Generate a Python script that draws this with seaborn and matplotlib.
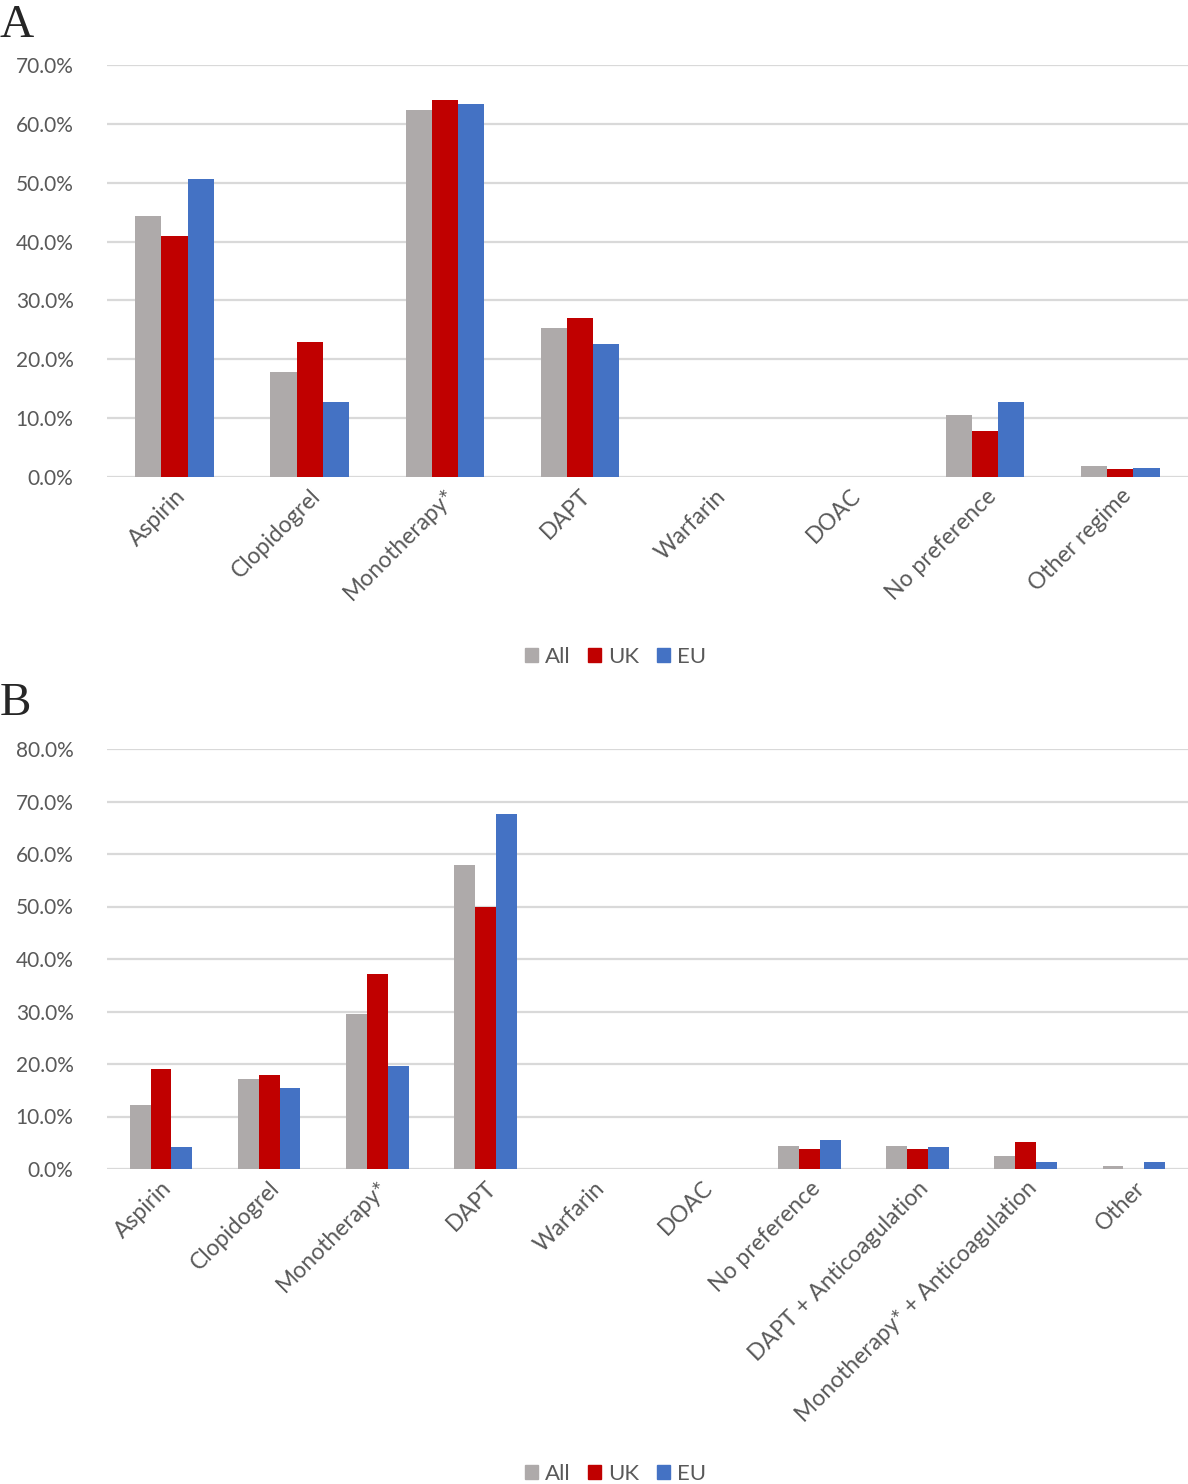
import matplotlib
matplotlib.use("Agg")
import matplotlib.pyplot as plt
import matplotlib.ticker as mtick
import pandas as pd
import seaborn as sns

# data (fractions)
series = ["All", "UK", "EU"]
colors = ["#AEAAAA", "#C00000", "#4472C4"]

cats_a = ["Aspirin", "Clopidogrel", "Monotherapy*", "DAPT", "Warfarin", "DOAC",
          "No preference", "Other regime"]
all_a = [0.443, 0.178, 0.623, 0.253, 0.0, 0.0, 0.105, 0.019]
uk_a = [0.409, 0.230, 0.640, 0.270, 0.0, 0.0, 0.078, 0.013]
eu_a = [0.506, 0.127, 0.633, 0.226, 0.0, 0.0, 0.127, 0.015]

cats_b = ["Aspirin", "Clopidogrel", "Monotherapy*", "DAPT", "Warfarin", "DOAC",
          "No preference", "DAPT + Anticoagulation",
          "Monotherapy* + Anticoagulation", "Other"]
all_b = [0.122, 0.172, 0.296, 0.580, 0.0, 0.0, 0.043, 0.043, 0.025, 0.005]
uk_b = [0.191, 0.179, 0.371, 0.500, 0.0, 0.0, 0.039, 0.039, 0.051, 0.0]
eu_b = [0.041, 0.154, 0.197, 0.676, 0.0, 0.0, 0.056, 0.041, 0.014, 0.014]


def long_df(cats, vals):
    rows = []
    for s, v in zip(series, vals):
        for c, x in zip(cats, v):
            rows.append({"cat": c, "series": s, "value": x})
    return pd.DataFrame(rows)


sns.set_style("white")
plt.rcParams["font.family"] = ["Lato", "DejaVu Sans"]
text_col = "#595959"

fig = plt.figure(figsize=(11.88, 14.84), dpi=100)


def draw_panel(rect, cats, vals, ymax, letter, letter_y, legend_y):
    ax = fig.add_axes(rect)
    df = long_df(cats, vals)
    sns.barplot(data=df, x="cat", y="value", hue="series", palette=colors,
                width=0.58, gap=0, ax=ax, legend=False, saturation=1,
                linewidth=0)
    ax.set_ylim(0, ymax)
    ax.set_yticks([i / 10 for i in range(int(round(ymax * 10)) + 1)])
    ax.yaxis.set_major_formatter(mtick.PercentFormatter(1.0, decimals=1))
    ax.grid(axis="y", color="#d9d9d9", lw=1.6)
    ax.set_axisbelow(True)
    for sp in ax.spines.values():
        sp.set_visible(False)
    ax.tick_params(axis="y", length=0, labelsize=15, colors=text_col, pad=24)
    ax.tick_params(axis="x", length=0, labelsize=16.5, colors=text_col, pad=6)
    ax.set_xlabel("")
    ax.set_ylabel("")
    plt.setp(ax.get_xticklabels(), rotation=45, ha="right",
             rotation_mode="anchor")
    ax.set_xlim(-0.5, len(cats) - 0.5)
    fig.text(0.0, letter_y, letter, family="Liberation Serif", fontsize=34,
             va="top", ha="left")
    handles = [plt.Rectangle((0, 0), 1, 1, color=c) for c in colors]
    fig.legend(handles, series, loc="center", bbox_to_anchor=(0.518, legend_y),
               ncol=3, frameon=False, fontsize=16, handlelength=0.6,
               handleheight=0.6, columnspacing=0.8, handletextpad=0.3,
               labelcolor=text_col)
    return ax


draw_panel([0.090, 1 - 477 / 1484, 0.91, 412 / 1484], cats_a,
           [all_a, uk_a, eu_a], 0.7, "A", 0.997, 1 - 657 / 1484)
draw_panel([0.090, 1 - 1169 / 1484, 0.91, 420 / 1484], cats_b,
           [all_b, uk_b, eu_b], 0.8, "B", 1 - 682 / 1484, 1 - 1474 / 1484)

fig.savefig("out.png", dpi=100)
